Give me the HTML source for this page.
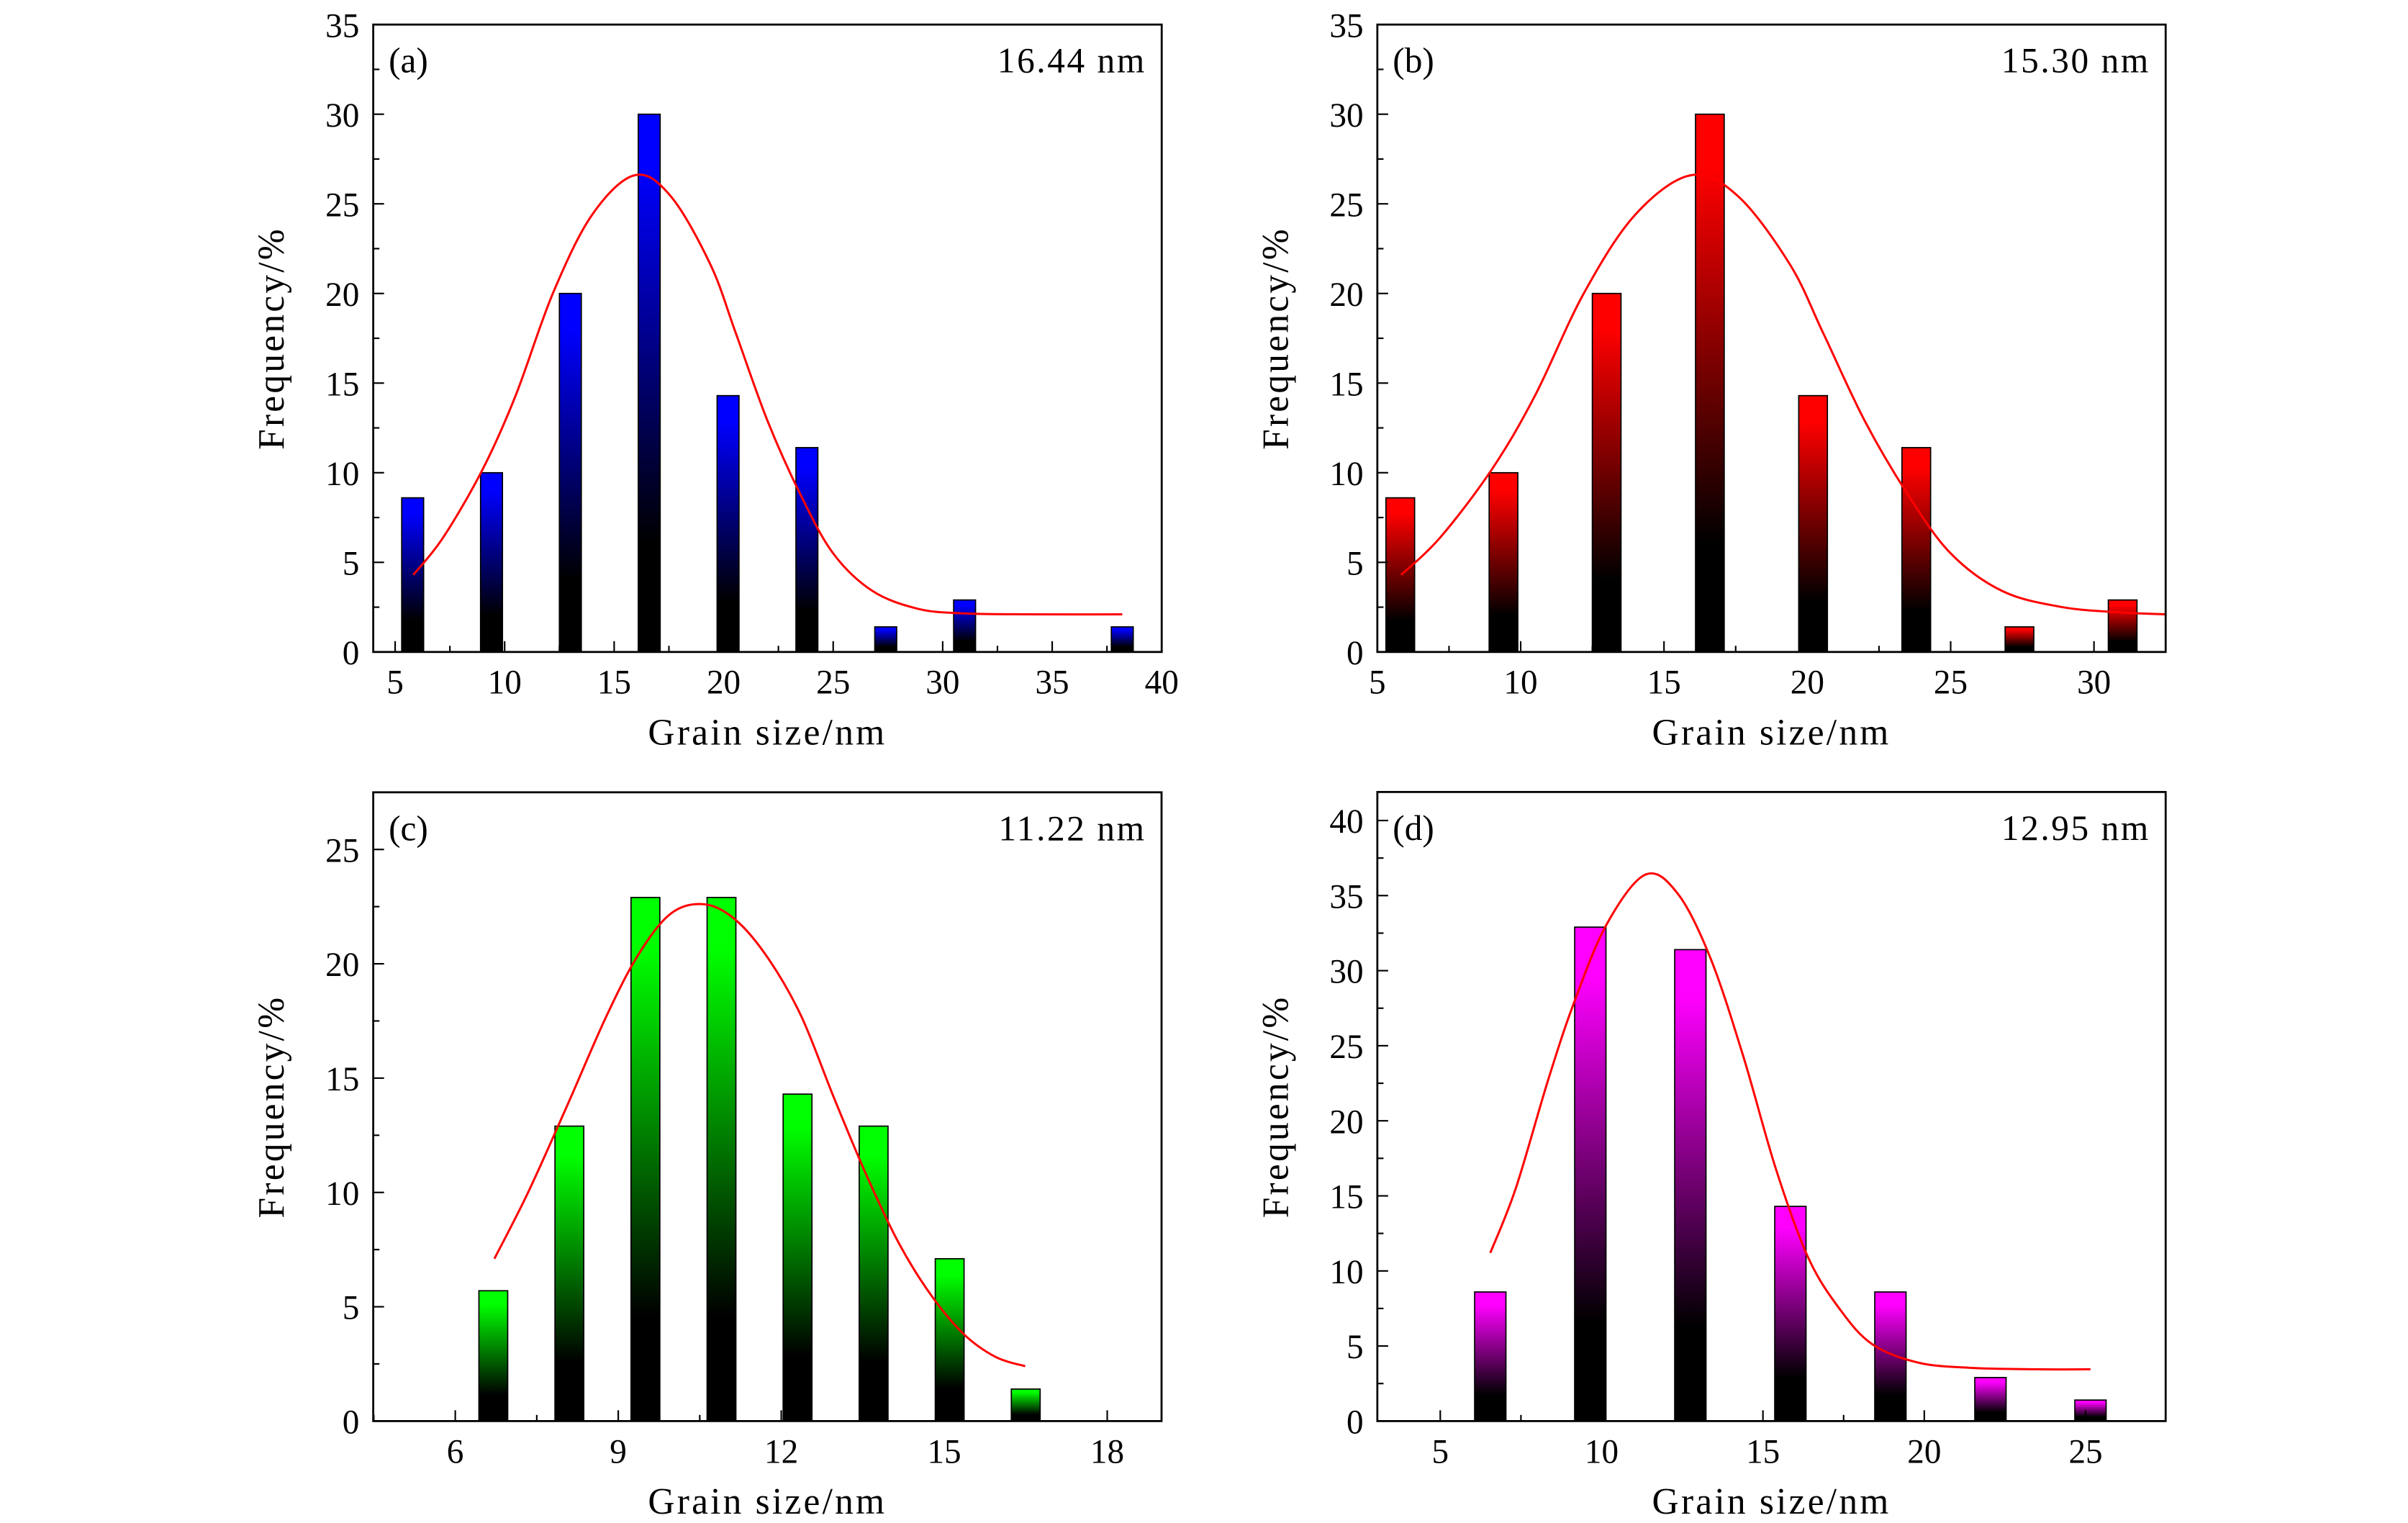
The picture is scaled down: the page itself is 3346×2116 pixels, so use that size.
<!DOCTYPE html>
<html><head><meta charset="utf-8"><style>
html,body{margin:0;padding:0;background:#fff}
svg{display:block}
text{font-family:"Liberation Serif",serif;fill:#000}
</style></head><body>
<svg id="fig" width="3346" height="2116" viewBox="0 0 1560 986.5" xmlns="http://www.w3.org/2000/svg">
<defs>
<linearGradient id="g-blue" x1="0" y1="0" x2="0" y2="1"><stop offset="0" stop-color="#0000ff"/><stop offset="0.1" stop-color="#0000ff"/><stop offset="0.8" stop-color="#000"/><stop offset="1" stop-color="#000"/></linearGradient>
<linearGradient id="g-red" x1="0" y1="0" x2="0" y2="1"><stop offset="0" stop-color="#ff0000"/><stop offset="0.1" stop-color="#ff0000"/><stop offset="0.8" stop-color="#000"/><stop offset="1" stop-color="#000"/></linearGradient>
<linearGradient id="g-green" x1="0" y1="0" x2="0" y2="1"><stop offset="0" stop-color="#00ff00"/><stop offset="0.1" stop-color="#00ff00"/><stop offset="0.8" stop-color="#000"/><stop offset="1" stop-color="#000"/></linearGradient>
<linearGradient id="g-magenta" x1="0" y1="0" x2="0" y2="1"><stop offset="0" stop-color="#ff00ff"/><stop offset="0.1" stop-color="#ff00ff"/><stop offset="0.8" stop-color="#000"/><stop offset="1" stop-color="#000"/></linearGradient>
</defs>
</svg>
<script>
// Panel (a)
const aSizes = [5.8, 9.4, 13.0, 16.6, 20.2, 23.8, 27.4, 31.0, 38.2];
const aFreq = [8.6, 10, 20, 30, 14.3, 11.4, 1.4, 2.9, 1.4];
const aFitX = [5.83, 7.2, 9.0, 10.5, 12.2, 14.0, 15.95, 17.6, 19.4, 20.55, 22.0, 23.5, 25.0, 26.8, 28.9, 31.0, 33.9, 38.2];
const aFitY = [4.3, 6.4, 10.2, 14.3, 20.0, 24.4, 26.6, 25.4, 21.6, 17.8, 12.9, 8.8, 5.5, 3.4, 2.4, 2.15, 2.1, 2.1];
const aXTicks = [5, 10, 15, 20, 25, 30, 35, 40];
const aYTicks = [0, 5, 10, 15, 20, 25, 30, 35];
// Panel (b)
const bSizes = [5.8, 9.4, 13.0, 16.6, 20.2, 23.8, 27.4, 31.0];
const bFreq = [8.6, 10, 20, 30, 14.3, 11.4, 1.4, 2.9];
const bFitX = [5.83, 7.2, 9.0, 10.5, 12.2, 14.0, 15.95, 17.6, 19.4, 20.55, 22.0, 23.5, 25.0, 26.8, 28.9, 31.0, 32.5];
const bFitY = [4.3, 6.4, 10.2, 14.3, 20.0, 24.4, 26.6, 25.4, 21.6, 17.8, 12.9, 8.8, 5.5, 3.4, 2.5, 2.2, 2.1];
const bXTicks = [5, 10, 15, 20, 25, 30];
const bYTicks = [0, 5, 10, 15, 20, 25, 30, 35];
// Panel (c)
const cSizes = [6.7, 8.1, 9.5, 10.9, 12.3, 13.7, 15.1, 16.5];
const cFreq = [5.7, 12.9, 22.9, 22.9, 14.3, 12.9, 7.1, 1.4];
const cFitX = [6.72, 7.34, 8.06, 8.78, 9.37, 9.97, 10.59, 11.17, 11.77, 12.37, 12.96, 13.56, 14.16, 14.76, 15.36, 15.95, 16.49];
const cFitY = [7.1, 10.0, 13.8, 17.7, 20.4, 22.2, 22.6, 21.9, 20.2, 17.7, 14.2, 10.8, 7.8, 5.5, 3.8, 2.8, 2.4];
const cXTicks = [6, 9, 12, 15, 18];
const cYTicks = [0, 5, 10, 15, 20, 25];
// Panel (d)
const dSizes = [6.55, 9.65, 12.75, 15.85, 18.95, 22.05, 25.15];
const dFreq = [8.6, 32.9, 31.4, 14.3, 8.6, 2.9, 1.4];
const dFitX = [6.55, 7.34, 8.34, 9.15, 10.16, 11.36, 12.37, 13.38, 14.39, 15.4, 16.4, 17.4, 18.4, 19.8, 21.4, 23.4, 25.15];
const dFitY = [11.2, 15.5, 22.7, 27.9, 33.1, 36.4, 35.1, 30.8, 24.3, 16.8, 10.9, 7.4, 5.1, 3.9, 3.55, 3.45, 3.45];
const dXTicks = [5, 10, 15, 20, 25];
const dYTicks = [0, 5, 10, 15, 20, 25, 30, 35, 40];

const NS = "http://www.w3.org/2000/svg";
const svg = document.getElementById('fig');
function mk(tag, attrs, parent){const e=document.createElementNS(NS,tag);for(const k in attrs)e.setAttribute(k,attrs[k]);(parent||svg).appendChild(e);return e;}

function smoothPath(pts){
  let d='M'+pts[0][0].toFixed(2)+' '+pts[0][1].toFixed(2);
  for(let i=0;i<pts.length-1;i++){
    const p0=pts[Math.max(0,i-1)],p1=pts[i],p2=pts[i+1],p3=pts[Math.min(pts.length-1,i+2)];
    const c1=[p1[0]+(p2[0]-p0[0])/6,p1[1]+(p2[1]-p0[1])/6];
    const c2=[p2[0]-(p3[0]-p1[0])/6,p2[1]-(p3[1]-p1[1])/6];
    d+='C'+c1[0].toFixed(2)+' '+c1[1].toFixed(2)+' '+c2[0].toFixed(2)+' '+c2[1].toFixed(2)+' '+p2[0].toFixed(2)+' '+p2[1].toFixed(2);
  }
  return d;
}

function panel(p){
  const g = mk('g',{});
  
  
  const sx = v => p.L + (v - p.xmin)/(p.xmax - p.xmin)*(p.R - p.L);
  const sy = v => p.B - (v - p.ymin)/(p.ymax - p.ymin)*(p.B - p.T);
  for(let i=0;i<p.sizes.length;i++){
    const x0 = sx(p.sizes[i]-p.bw/2), x1 = sx(p.sizes[i]+p.bw/2), y0 = sy(p.freq[i]);
    const r = mk('rect',{x:x0,y:y0,width:x1-x0,height:p.B-y0,fill:'url(#'+p.grad+')',stroke:'#000','stroke-width':0.8},g);
    
    
  }
  const pts = p.fx.map((x,i)=>[sx(x),sy(p.fy[i])]);
  const c = mk('path',{d:smoothPath(pts),fill:'none',stroke:'#ff0000','stroke-width':1.4,'stroke-linejoin':'round'},g);
  
  
  const f = mk('rect',{x:p.L,y:p.T,width:p.R-p.L,height:p.B-p.T,fill:'none',stroke:'#000','stroke-width':1.3},g);
  
  
  const xs = p.xt[1]-p.xt[0];
  for(let v=p.xt[0]-xs; v<=p.xmax+1e-6; v+=xs/2){
    if(v<p.xmin-1e-6) continue;
    const major = p.xt.some(t=>Math.abs(t-v)<1e-6);
    mk('line',{x1:sx(v),x2:sx(v),y1:p.B,y2:p.B-(major?7:4),stroke:'#000','stroke-width':1},g);
  }
  p.xt.forEach(v=>{
    const t = mk('text',{x:sx(v),y:p.B+27,'text-anchor':'middle','font-size':22},g);
    t.textContent = v;
    
    
  });
  const ys = p.yt[1]-p.yt[0];
  for(let v=p.yt[0]; v<=p.ymax+1e-6; v+=ys/2){
    const major = p.yt.some(t=>Math.abs(t-v)<1e-6);
    mk('line',{x1:p.L,x2:p.L+(major?7:4),y1:sy(v),y2:sy(v),stroke:'#000','stroke-width':1},g);
  }
  p.yt.forEach(v=>{
    const t = mk('text',{x:p.L-9,y:sy(v)+8,'text-anchor':'end','font-size':22},g);
    t.textContent = v;
    
    
  });
  const xt = mk('text',{x:(p.L+p.R)/2,y:p.B+60,'text-anchor':'middle','font-size':24,'letter-spacing':1.5},g);
  xt.textContent='Grain size/nm';
  
  
  const yc=(p.T+p.B)/2, yx=p.L-58;
  const yt = mk('text',{x:yx,y:yc,'text-anchor':'middle','font-size':24,'letter-spacing':1.5,transform:'rotate(-90 '+yx+' '+yc+')'},g);
  yt.textContent='Frequency/%';
  
  
  const pl = mk('text',{x:p.L+10,y:p.T+31,'font-size':23},g);
  pl.textContent='('+p.id+')';
  
  
  const ms = mk('text',{x:p.R-10,y:p.T+31,'text-anchor':'end','font-size':23,'letter-spacing':1.2},g);
  ms.textContent=p.mean;
  
  
}

panel({id:'a',L:241.8,R:752.6,T:15.9,B:422.3,xmin:4.0,xmax:40,ymin:0,ymax:35,bw:1.0,sizes:aSizes,freq:aFreq,fx:aFitX,fy:aFitY,xt:aXTicks,yt:aYTicks,grad:'g-blue',mean:'16.44 nm'});
panel({id:'b',L:892.3,R:1403,T:15.9,B:422.3,xmin:5,xmax:32.5,ymin:0,ymax:35,bw:1.0,sizes:bSizes,freq:bFreq,fx:bFitX,fy:bFitY,xt:bXTicks,yt:bYTicks,grad:'g-red',mean:'15.30 nm'});
panel({id:'c',L:241.8,R:752.5,T:513.2,B:920.5,xmin:4.49,xmax:19.0,ymin:0,ymax:27.5,bw:0.53,sizes:cSizes,freq:cFreq,fx:cFitX,fy:cFitY,xt:cXTicks,yt:cYTicks,grad:'g-green',mean:'11.22 nm'});
panel({id:'d',L:892.3,R:1403,T:513,B:920.5,xmin:3.05,xmax:27.48,ymin:0,ymax:41.9,bw:0.97,sizes:dSizes,freq:dFreq,fx:dFitX,fy:dFitY,xt:dXTicks,yt:dYTicks,grad:'g-magenta',mean:'12.95 nm'});
</script>
</body></html>
